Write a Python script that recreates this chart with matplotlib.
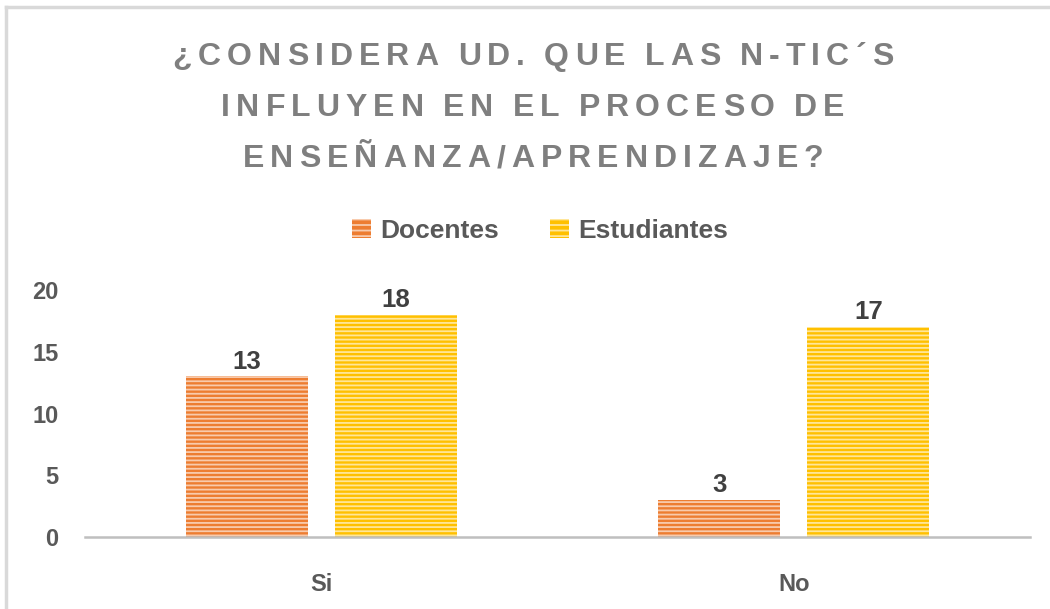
import numpy as np
import matplotlib
matplotlib.use('Agg')
import matplotlib.pyplot as plt
from matplotlib.lines import Line2D

plt.rcParams['font.family'] = ['Liberation Sans', 'DejaVu Sans']
plt.rcParams['font.weight'] = 'bold'
plt.rcParams['hatch.linewidth'] = 1.3

# data
categories = ['Si', 'No']
docentes = [13, 3]
estudiantes = [18, 17]
series_names = ['Docentes', 'Estudiantes']
title_lines = ['¿CONSIDERA UD. QUE LAS N-TIC´S',
               'INFLUYEN EN EL PROCESO DE',
               'ENSEÑANZA/APRENDIZAJE?']

txt_color = '#595959'
W, H = 1050, 609
fig = plt.figure(figsize=(10.5, 6.09), dpi=100)
ax = fig.add_axes([85 / W, 1 - 537 / H, 945 / W, (537 - 290) / H])

x = np.arange(len(categories))
w = 0.258
off = 0.158
b1 = ax.bar(x - off, docentes, w, color='#ED7D31', edgecolor='#F8CBAD',
            hatch='----', linewidth=0)
b2 = ax.bar(x + off, estudiantes, w, color='#FFC000', edgecolor='#FFE699',
            hatch='----', linewidth=0)

for bars in (b1, b2):
    for r in bars:
        ax.annotate(str(int(r.get_height())),
                    (r.get_x() + r.get_width() / 2, r.get_height()),
                    xytext=(0, 2), textcoords='offset points',
                    ha='center', va='bottom', fontsize=18.5,
                    fontweight='bold', color='#404040')

ax.set_xlim(-0.5, 1.5)
ax.set_ylim(0, 20)
ax.set_yticks([0, 5, 10, 15, 20])
ax.set_xticks(x)
ax.set_xticklabels(categories)
for s in ['top', 'right', 'left']:
    ax.spines[s].set_visible(False)
ax.spines['bottom'].set_color('#BFBFBF')
ax.spines['bottom'].set_linewidth(1.8)
ax.tick_params(length=0, labelsize=17, labelcolor=txt_color)
ax.tick_params(axis='y', pad=19)
ax.tick_params(axis='x', pad=26)

# title with wide letter spacing (drawn char by char)
renderer = fig.canvas.get_renderer()
spacing = None
for i, line in enumerate(title_lines):
    yc = 1 - (57 + 51 * i) / H
    chars = []
    widths = []
    for ch in line:
        t = fig.text(0, yc, ch, ha='left', va='center', fontsize=23,
                     fontweight='bold', color='#7F7F7F')
        chars.append(t)
        if ch == ' ':
            widths.append(7.0)
        else:
            widths.append(t.get_window_extent(renderer).width)
    if spacing is None:
        spacing = (721 - sum(widths)) / (len(line) - 1)
    total = sum(widths) + spacing * (len(line) - 1)
    xpos = 533 - total / 2
    for t, wd in zip(chars, widths):
        t.set_x(xpos / W)
        xpos += wd + spacing

# legend
handles = [plt.Rectangle((0, 0), 1, 1, facecolor='#ED7D31', edgecolor='#F8CBAD',
                         hatch='---', linewidth=0),
           plt.Rectangle((0, 0), 1, 1, facecolor='#FFC000', edgecolor='#FFE699',
                         hatch='---', linewidth=0)]
leg = fig.legend(handles, series_names, loc='center', bbox_to_anchor=(540 / W, 1 - 231 / H),
                 ncol=2, frameon=False, handlelength=0.75, handleheight=0.75,
                 handletextpad=0.35, columnspacing=1.9,
                 prop={'size': 19, 'weight': 'bold'})
for t in leg.get_texts():
    t.set_color(txt_color)

# chart border
fig.add_artist(Line2D([6 / W, 6 / W], [0, 1 - 7 / H], color='#D9D9D9', lw=2.5))
fig.add_artist(Line2D([6 / W, 1], [1 - 7 / H, 1 - 7 / H], color='#D9D9D9', lw=2.5))

fig.savefig('out.png', dpi=100)
